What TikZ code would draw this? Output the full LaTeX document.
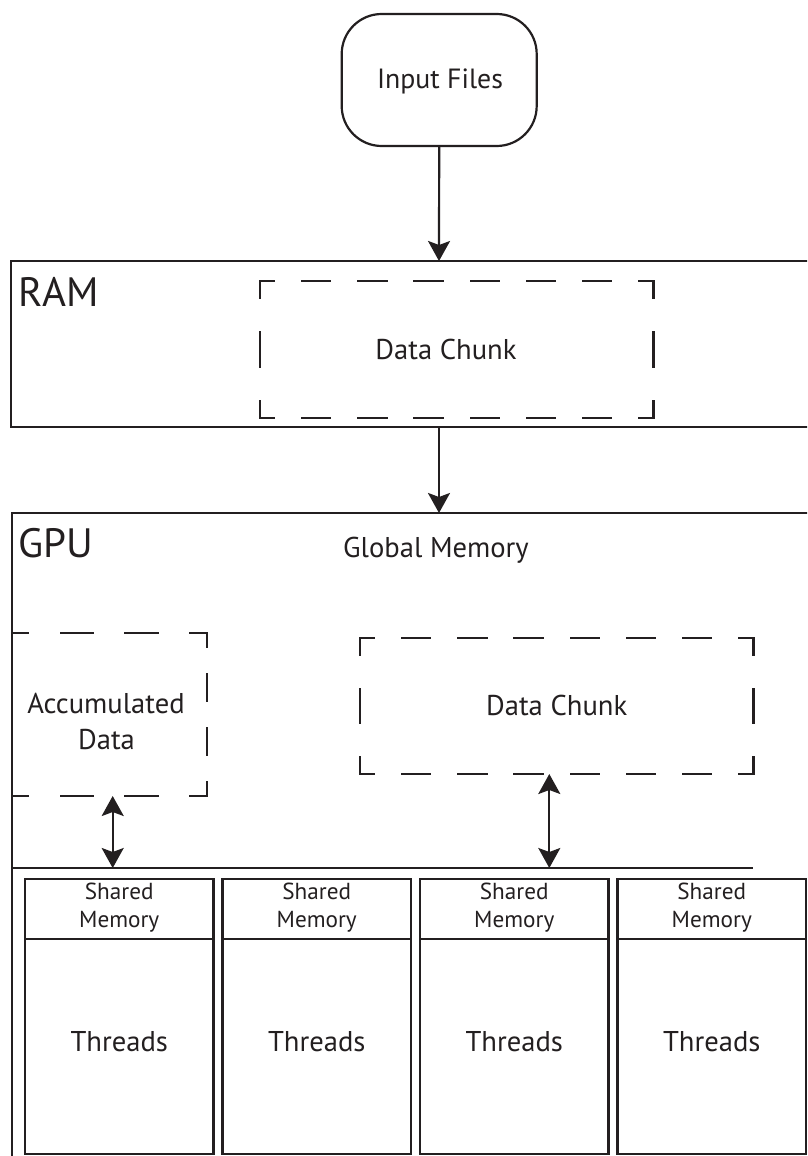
\documentclass[tikz,border=0pt]{standalone}
\usepackage{fontspec}
\setmainfont{PT Sans}
\usetikzlibrary{arrows.meta}
\definecolor{ink}{HTML}{231F20}

% dashed frame whose sides start and end with half dashes at the corners
% #1 node, #2 dash length along the horizontal sides, #3 along the vertical sides
\newcommand\dashframe[3]{%
  \pgfmathsetmacro\dfH{#2/2}\pgfmathsetmacro\dfV{#3/2}%
  \draw[chunkline, dash pattern=on #2pt off #2pt, dash phase=\dfH pt] (#1.north west) -- (#1.north east);
  \draw[chunkline, dash pattern=on #2pt off #2pt, dash phase=\dfH pt] (#1.south west) -- (#1.south east);
  \draw[chunkline, dash pattern=on #3pt off #3pt, dash phase=\dfV pt] (#1.north west) -- (#1.south west);
  \draw[chunkline, dash pattern=on #3pt off #3pt, dash phase=\dfV pt] (#1.north east) -- (#1.south east);
}

\tikzset{
  box/.style={draw=ink, line width=2.2pt, inner sep=0pt, outer sep=0pt},
  colbox/.style={draw=ink, line width=2.4pt, inner sep=0pt, outer sep=0pt},
  frame/.style={inner sep=0pt, outer sep=0pt},
  chunkline/.style={draw=ink, line width=2.2pt, line cap=rect},
  link/.style={draw=ink, line width=2.2pt, -{Stealth[length=20pt,width=22pt,inset=4pt]}},
  duplex/.style={draw=ink, line width=2.2pt, {Stealth[length=20pt,width=22pt,inset=4pt]}-{Stealth[length=20pt,width=22pt,inset=4pt]}},
  biglabel/.style={font=\fontsize{41}{44}\selectfont, text=ink, inner sep=0pt},
  inlabel/.style={font=\fontsize{27.8}{32}\selectfont, text=ink, inner sep=0pt},
  midlabel/.style={font=\fontsize{28.6}{32}\selectfont, text=ink, inner sep=0pt},
  smalllabel/.style={font=\fontsize{23.2}{26}\selectfont, text=ink, inner sep=0pt},
}

\begin{document}
\begin{tikzpicture}[x=1pt, y=-1pt]
  \useasboundingbox[fill=white] (0,0) rectangle (807,1156);
  \clip (0,0) rectangle (807,1156);

  % source
  \node[box, rounded corners=40pt, minimum width=195pt, minimum height=132pt] (inp) at (439.2,80) {};
  \node[inlabel, anchor=base] (inpl) at (440,88.3) {Input Files};

  % host memory
  \node[box, minimum width=856pt, minimum height=166pt] (ram) at (439,344) {};
  \node[biglabel, anchor=base west] (raml) at (18.5,306.7) {RAM};
  \node[frame, minimum width=393.5pt, minimum height=137pt] (rchunk) at (456.75,349.5) {};
  \dashframe{rchunk}{28.1}{34.25}
  \node[midlabel, anchor=base] (rchl) at (446,359) {Data Chunk};

  % device
  \node[box, minimum width=854.6pt, minimum height=787pt] (gpu) at (439,906.5) {};
  \node[biglabel, anchor=base west] (gpul) at (18.5,557) {GPU};
  \node[midlabel, anchor=base] (gml) at (436,557) {Global Memory};

  \node[frame, minimum width=194.7pt, minimum height=162.7pt] (acc) at (109.35,714.65) {};
  \dashframe{acc}{32.45}{27.1}
  \node[midlabel, anchor=base] (accA) at (106,713) {Accumulated};
  \node[midlabel, anchor=base] (accB) at (106.5,749) {Data};

  \node[frame, minimum width=393.5pt, minimum height=136pt] (gchunk) at (556.75,706) {};
  \dashframe{gchunk}{28.1}{34}
  \node[midlabel, anchor=base] (gchl) at (556.7,715) {Data Chunk};

  % bus between global memory and the blocks
  \coordinate (busL) at (11.7,868);
  \coordinate (busR) at (753.3,868);
  \coordinate (busA) at (112.7,868);
  \coordinate (busB) at (549.3,868);
  \draw[draw=ink, line width=2.2pt] (busL) -- (busR);

  % flow
  \draw[link] (inp.south) -- (ram.north);
  \draw[link] (ram.south) -- (gpu.north);
  \draw[duplex] (acc.south -| busA) -- (busA);
  \draw[duplex] (gchunk.south -| busB) -- (busB);

  % thread blocks
  \foreach \i in {1,...,4} {
    \pgfmathsetmacro\cx{25+197.5*(\i-1)+94.25}
    \node[colbox, minimum width=188.5pt, minimum height=60pt] (sm\i) at (\cx,909) {};
    \node[colbox, minimum width=188.5pt, minimum height=215pt] (th\i) at (\cx,1046.5) {};
    \node[smalllabel, anchor=base] (smA\i) at (\cx,899) {Shared};
    \node[smalllabel, anchor=base] (smB\i) at (\cx,927.7) {Memory};
    \node[midlabel, anchor=base] (thl\i) at (\cx,1051) {Threads};
  }
\end{tikzpicture}
\end{document}
